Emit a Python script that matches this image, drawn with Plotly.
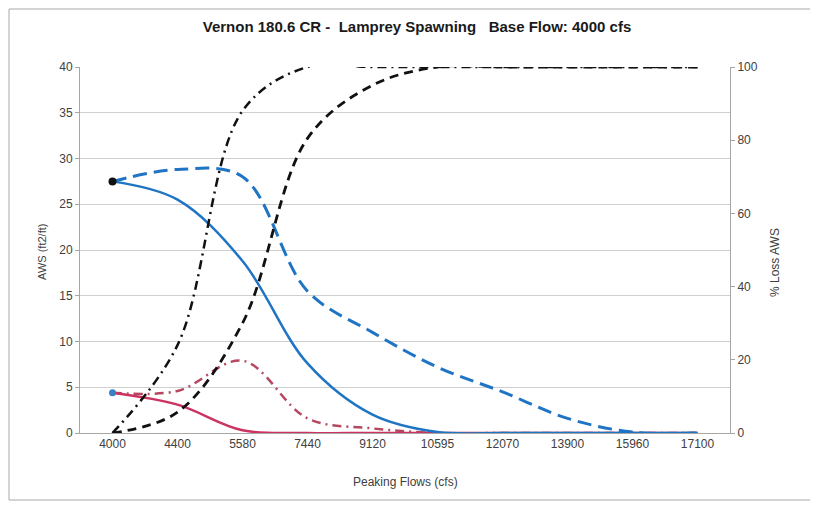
import plotly.graph_objects as go

flows = ["4000", "4400", "5580", "7440", "9120", "10595", "12070", "13900", "15960", "17100"]

aws_blue_solid = [27.5, 25.5, 18.8, 7.6, 2.0, 0.1, 0, 0, 0, 0]
aws_blue_dashed = [27.5, 28.8, 28.0, 15.5, 11.0, 7.2, 4.5, 1.6, 0.1, 0]
aws_red_solid = [4.4, 3.1, 0.3, 0, 0, 0, 0, 0, 0, 0]
aws_red_dashdot = [4.4, 4.6, 7.9, 1.6, 0.5, 0, 0, 0, 0, 0]
loss_black_dashdot = [0, 24, 88, 100, 100, 100, 100, 100, 100, 100]
loss_black_dashed = [0, 5.7, 30, 80.5, 95, 100, 100, 100, 100, 100]

BLUE = "#1f74c4"
RED = "#cc3360"
RED2 = "#b5485f"
BLACK = "#111111"

fig = go.Figure()

def add(y, color, dash, width, axis="y"):
    fig.add_trace(go.Scatter(
        x=flows, y=y, mode="lines", yaxis=axis,
        line=dict(color=color, width=width, dash=dash, shape="spline", smoothing=1.0),
        showlegend=False, hoverinfo="skip"))

add(loss_black_dashdot, BLACK, "9px,5px,2px,5px", 2.5, "y2")
add(loss_black_dashed, BLACK, "9px,6px", 2.8, "y2")
add(aws_red_dashdot, RED2, "9px,5px,2px,5px", 2.5)
add(aws_red_solid, RED, "solid", 2.5)
add(aws_blue_dashed, BLUE, "14px,7px", 3)
add(aws_blue_solid, BLUE, "solid", 2.5)

fig.add_trace(go.Scatter(x=[flows[0]], y=[aws_blue_solid[0]], mode="markers",
                         marker=dict(color=BLACK, size=8), showlegend=False, hoverinfo="skip"))
fig.add_trace(go.Scatter(x=[flows[0]], y=[aws_red_solid[0]], mode="markers",
                         marker=dict(color="#3a80c4", size=7), showlegend=False, hoverinfo="skip"))

FONT = "Liberation Sans, Arial, sans-serif"
tickfont = dict(family=FONT, size=12, color="#404040")

# the page body adds an 8px offset; work in page coordinates and subtract it
OFF = 8
W, H = 818 - OFF, 505 - OFF
PL, PR, PT, PB = 80, 730, 67, 433   # plot area in page pixels
L, R, T, B = PL - OFF, W - (PR - OFF), PT - OFF, H - (PB - OFF)
pw, ph = PR - PL, PB - PT

def px(x):
    return (x - PL) / pw

def py(y):
    return (PB - y) / ph

fig.update_layout(
    width=W, height=H,
    margin=dict(l=L, r=R, t=T, b=B, autoexpand=False),
    paper_bgcolor="white", plot_bgcolor="white",
    title=dict(text="<b>Vernon 180.6 CR -  Lamprey Spawning   Base Flow: 4000 cfs</b>",
               x=(417 - OFF) / W, xanchor="center", xref="container",
               y=1 - (27 - OFF) / H, yanchor="middle", yref="container",
               font=dict(family=FONT, size=15, color="#1a1a1a")),
    xaxis=dict(type="category", range=[-0.5, 9.5], showgrid=False,
               showline=True, linecolor="#a6a6a6", linewidth=1,
               ticks="", tickfont=tickfont, zeroline=False, fixedrange=True),
    yaxis=dict(range=[0, 40], dtick=5, showgrid=True, gridcolor="#cfcfcf", gridwidth=1,
               showline=True, linecolor="#a6a6a6", linewidth=1,
               ticks="outside", ticklen=4, tickcolor="#a6a6a6",
               tickfont=tickfont, zeroline=False),
    yaxis2=dict(range=[0, 100], dtick=20, overlaying="y", side="right",
                showgrid=False, showline=True, linecolor="#a6a6a6", linewidth=1,
                ticks="outside", ticklen=4, tickcolor="#a6a6a6",
                tickfont=tickfont, zeroline=False),
    annotations=[
        dict(text="AWS (ft2/ft)", xref="paper", yref="paper", x=px(42), y=py(252),
             textangle=-90, showarrow=False, xanchor="center", yanchor="middle",
             font=dict(family=FONT, size=11, color="#404040")),
        dict(text="% Loss AWS", xref="paper", yref="paper", x=px(775), y=py(263),
             textangle=-90, showarrow=False, xanchor="center", yanchor="middle",
             font=dict(family=FONT, size=12, color="#404040")),
        dict(text="Peaking Flows (cfs)", xref="paper", yref="paper", x=px(405), y=py(482),
             showarrow=False, xanchor="center", yanchor="middle",
             font=dict(family=FONT, size=12, color="#404040")),
    ],
    shapes=[
        dict(type="rect", xref="paper", yref="paper",
             x0=px(9), x1=px(813), y0=py(500), y1=py(9),
             line=dict(color="#a8a8a8", width=1), fillcolor="rgba(0,0,0,0)", layer="below"),
    ],
)

fig.write_html("out.html")
